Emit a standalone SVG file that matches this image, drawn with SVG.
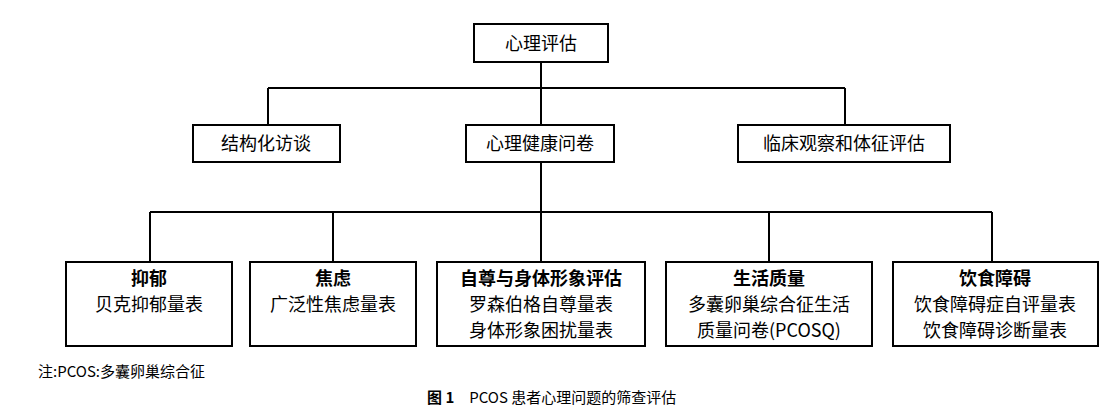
<svg xmlns="http://www.w3.org/2000/svg" width="1119" height="416" viewBox="0 0 1119 416">
<style>
rect{fill:#fff;stroke:#000;stroke-width:2}
text{font-family:"Noto Sans CJK SC","Liberation Sans",sans-serif;font-size:18px;fill:#000;text-anchor:middle}
.b{font-weight:bold}
.c{stroke:#000;stroke-width:2;fill:none}
.n{font-size:15px;text-anchor:start}
</style>
<rect x="0" y="0" width="1119" height="416" style="stroke:none"/>
<g id="connectors" class="c">
<path d="M541 62V88M268 88H845M268 88V125M541 88V125M845 88V125"/>
<path d="M541 162V212M150 212H992M150 212V262M333 212V262M541 212V262M769 212V262M992 212V262"/>
</g>
<g id="n0"><rect x="474" y="24" width="134" height="38"/><text x="541" y="50">心理评估</text></g>
<g id="n1"><rect x="193" y="125" width="147" height="37"/><text x="266" y="150">结构化访谈</text></g>
<g id="n2"><rect x="466" y="125" width="148" height="37"/><text x="540" y="150">心理健康问卷</text></g>
<g id="n3"><rect x="738" y="125" width="212" height="37"/><text x="844" y="150">临床观察和体征评估</text></g>
<g id="n4"><rect x="66" y="262" width="166" height="84"/><text class="b" x="149" y="285">抑郁</text><text x="149" y="311">贝克抑郁量表</text></g>
<g id="n5"><rect x="250" y="262" width="166" height="84"/><text class="b" x="333" y="285">焦虑</text><text x="333" y="311">广泛性焦虑量表</text></g>
<g id="n6"><rect x="437" y="262" width="208" height="84"/><text class="b" x="541" y="285">自尊与身体形象评估</text><text x="541" y="311">罗森伯格自尊量表</text><text x="541" y="337">身体形象困扰量表</text></g>
<g id="n7"><rect x="666" y="262" width="206" height="84"/><text class="b" x="769" y="285">生活质量</text><text x="769" y="311">多囊卵巢综合征生活</text><text x="769" y="337">质量问卷(PCOSQ)</text></g>
<g id="n8"><rect x="893" y="262" width="205" height="84"/><text class="b" x="995" y="285">饮食障碍</text><text x="995" y="311">饮食障碍症自评量表</text><text x="995" y="337">饮食障碍诊断量表</text></g>
<text class="n" x="38" y="377">注:PCOS:多囊卵巢综合征</text>
<text class="n" x="427" y="403"><tspan font-weight="bold">图 1</tspan>　PCOS 患者心理问题的筛查评估</text>
</svg>
